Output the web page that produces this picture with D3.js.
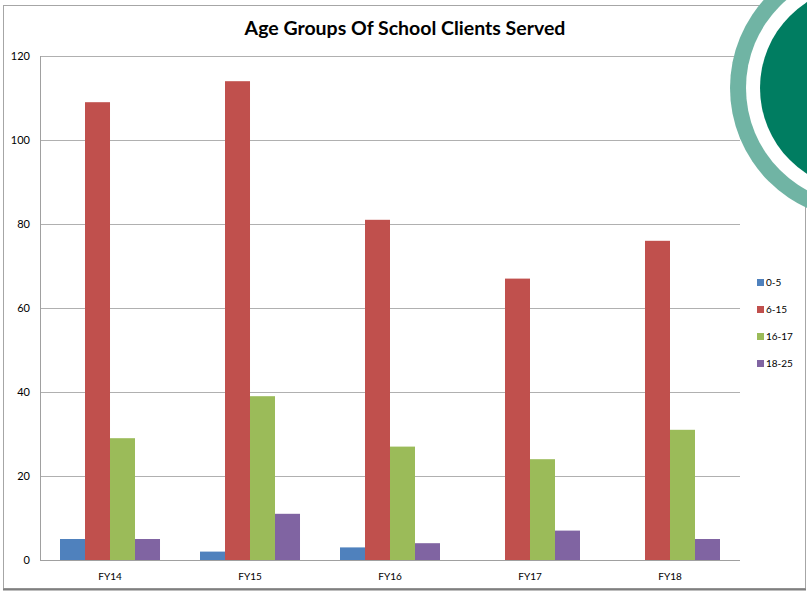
<!DOCTYPE html>
<html><head><meta charset="utf-8">
<script src="https://cdn.jsdelivr.net/npm/d3@7"></script>
<style>body{margin:0;background:#fff;}svg{display:block;}</style>
</head><body>
<script>
const categories = ["FY14","FY15","FY16","FY17","FY18"];
const seriesNames = ["0-5","6-15","16-17","18-25"];
const s0_5 = [5, 2, 3, 0, 0];
const s6_15 = [109, 114, 81, 67, 76];
const s16_17 = [29, 39, 27, 24, 31];
const s18_25 = [5, 11, 4, 7, 5];
const yTicks = [0,20,40,60,80,100,120];
const colors = ["#4F81BD","#C0504D","#9BBB59","#8064A2"];
const seriesValues = [s0_5, s6_15, s16_17, s18_25];

const W = 807, H = 592;
const svg = d3.select("body").append("svg").attr("width", W).attr("height", H);
const font = "Lato, 'Open Sans', sans-serif";

// frame
svg.append("rect").attr("x",3.5).attr("y",5.5).attr("width",802).attr("height",583)
  .attr("fill","#fff").attr("stroke","#a6a6a6");
svg.append("line").attr("x1",3).attr("x2",806).attr("y1",589.5).attr("y2",589.5).attr("stroke","#7f7f7f").attr("stroke-width",2);

const x0 = d3.scaleBand().domain(categories).range([40,740]).paddingInner(0.2857).paddingOuter(0.1429);
const x1 = d3.scaleBand().domain(seriesNames).range([0, x0.bandwidth()]);
const y = d3.scaleLinear().domain([0,120]).range([560,56]);

// grid
svg.append("g").selectAll("line").data(yTicks.filter(d=>d>0)).join("line")
  .attr("x1",40).attr("x2",740).attr("y1",d=>Math.round(y(d))+0.5).attr("y2",d=>Math.round(y(d))+0.5)
  .attr("stroke","#b0b0b0");
svg.append("line").attr("x1",40.5).attr("x2",40.5).attr("y1",56).attr("y2",560).attr("stroke","#a0a0a0");

// bars
const g = svg.append("g").selectAll("g").data(categories).join("g")
  .attr("transform", d=>`translate(${x0(d)},0)`);
g.selectAll("rect").data((c,i)=>seriesNames.map((s,j)=>({s, v: seriesValues[j][i], j})))
  .join("rect")
  .attr("x", d=>x1(d.s)).attr("width", x1.bandwidth())
  .attr("y", d=>y(d.v)).attr("height", d=>y(0)-y(d.v))
  .attr("fill", d=>colors[d.j]);

// x axis line
svg.append("line").attr("x1",40).attr("x2",740).attr("y1",560.5).attr("y2",560.5).attr("stroke","#a0a0a0");

// y labels
svg.append("g").selectAll("text").data(yTicks).join("text")
  .attr("x",30).attr("y",d=>y(d)+4).attr("text-anchor","end")
  .attr("font-family",font).attr("font-size",11).attr("fill","#000").text(d=>d);

// x labels
svg.append("g").selectAll("text").data(categories).join("text")
  .attr("x",d=>x0(d)+x0.bandwidth()/2).attr("y",580).attr("text-anchor","middle")
  .attr("font-family",font).attr("font-size",10).attr("fill","#000").text(d=>d);

// title
svg.append("text").attr("x",405).attr("y",35).attr("text-anchor","middle")
  .attr("font-family",font).attr("font-weight","bold").attr("font-size",19.5).text("Age Groups Of School Clients Served");

// legend
const lg = svg.append("g").selectAll("g").data(seriesNames).join("g")
  .attr("transform",(d,i)=>`translate(757,${279+i*27})`);
lg.append("rect").attr("width",7).attr("height",7).attr("fill",(d,i)=>colors[i]);
lg.append("text").attr("x",9).attr("y",7).attr("font-family",font).attr("font-size",10).text(d=>d);

// decoration
const cx = 862, cy = 88;
svg.append("circle").attr("cx",cx).attr("cy",cy).attr("r",132).attr("fill","#70B4A4");
svg.append("circle").attr("cx",cx).attr("cy",cy).attr("r",116).attr("fill","#fff");
svg.append("circle").attr("cx",cx).attr("cy",cy).attr("r",102).attr("fill","#007D61");
</script>
</body></html>
